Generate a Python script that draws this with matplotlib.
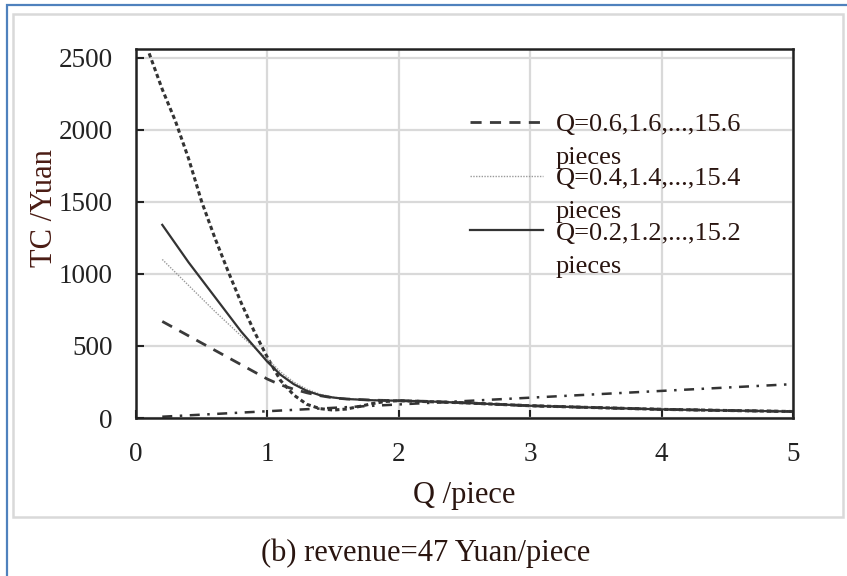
import numpy as np
import matplotlib
matplotlib.use("Agg")
import matplotlib.pyplot as plt
from matplotlib.legend_handler import HandlerLine2D
from matplotlib.patches import Rectangle

# Total cost curves, TC (Yuan) against order quantity Q (piece)
q_steep = [0.1, 0.2, 0.3, 0.4, 0.5, 0.6, 0.7, 0.8, 0.9, 1.0, 1.1, 1.2, 1.3, 1.4,
           1.5, 1.6, 1.7, 1.8, 1.9, 2.0, 2.5, 3.0, 3.5, 4.0, 4.5, 5.0]
tc_steep = [2530, 2280, 2060, 1800, 1500, 1250, 1020, 800, 600, 420, 260, 160, 95, 65,
            55, 62, 80, 100, 115, 120, 105, 85, 72, 60, 52, 45]

q_curve = [0.2, 0.4, 0.6, 0.8, 1.0, 1.1, 1.2, 1.3, 1.4, 1.5, 1.6, 1.8, 2.0, 2.2,
           2.5, 3.0, 3.5, 4.0, 4.5, 5.0]
tc_q06 = [670, 570, 470, 370, 270, 230, 200, 175, 155, 140, 132, 124, 120, 116,
          105, 85, 72, 60, 52, 45]
tc_q04 = [1100, 920, 740, 570, 410, 320, 250, 200, 165, 145, 133, 124, 120, 116,
          105, 85, 72, 60, 52, 45]
tc_q02 = [1340, 1080, 840, 600, 390, 300, 235, 188, 158, 142, 132, 123, 120, 116,
          105, 85, 72, 60, 52, 45]

q_rev = [0.2, 1.0, 2.0, 3.0, 4.0, 5.0]
tc_rev = [9, 47, 94, 141, 188, 235]

labels = ["Q=0.6,1.6,...,15.6\npieces",
          "Q=0.4,1.4,...,15.4\npieces",
          "Q=0.2,1.2,...,15.2\npieces"]

x_ticks = [0, 1, 2, 3, 4, 5]
y_ticks = [0, 500, 1000, 1500, 2000, 2500]

plt.rcParams["font.family"] = ["Liberation Serif", "DejaVu Serif"]

W, H = 847, 576
fig = plt.figure(figsize=(W / 100, H / 100), dpi=100)

# page frame: blue picture border and grey chart-area border
fig.patches.append(Rectangle((7 / W, -0.05), 1.0, 1 - 5 / H + 0.05,
                             transform=fig.transFigure, fill=False,
                             edgecolor="#4f81bd", linewidth=1.6))
fig.patches.append(Rectangle((13 / W, 1 - 517 / H), (843 - 13) / W, (517 - 14) / H,
                             transform=fig.transFigure, fill=False,
                             edgecolor="#d9d9d9", linewidth=1.8))

ax = fig.add_axes([136 / W, 1 - 418 / H, (793 - 136) / W, (418 - 49) / H])

ax.plot(q_steep, tc_steep, color="#333333", lw=2.2, linestyle=(0, (1.4, 1.0)))
l06, = ax.plot(q_curve, tc_q06, color="#3a3a3a", lw=2.0, linestyle=(0, (4, 3)))
l04, = ax.plot(q_curve, tc_q04, color="#9a9a9a", lw=1.0, linestyle=(0, (1, 1)))
l02, = ax.plot(q_curve, tc_q02, color="#333333", lw=1.6, linestyle="-")
ax.plot(q_rev, tc_rev, color="#333333", lw=1.8, linestyle=(0, (4, 3, 1, 3)))

ax.set_xlim(0, 5)
ax.set_ylim(0, 2560)
ax.set_xticks(x_ticks)
ax.set_yticks(y_ticks)
ax.grid(True, color="#d9d9d9", lw=1.6)
ax.set_axisbelow(True)
for s in ax.spines.values():
    s.set_linewidth(1.8)
    s.set_color("#222222")
ax.tick_params(direction="in", length=6, width=1.5, labelsize=19.5,
               colors="#222222")
ax.tick_params(axis="x", pad=17)
ax.tick_params(axis="y", pad=17)

ax.set_xlabel("Q /piece", fontsize=22, color="#2a1510", labelpad=10)
ax.set_ylabel("TC /Yuan", fontsize=22, color="#4a1c14")
ax.yaxis.set_label_coords(-(136 - 59) / (793 - 136), (418 - 208) / (418 - 49))


class RaisedLine(HandlerLine2D):
    """Line handle drawn level with the first line of a two-line label."""

    def create_artists(self, legend, orig_handle, xdescent, ydescent,
                       width, height, fontsize, trans):
        arts = super().create_artists(legend, orig_handle, xdescent, ydescent,
                                      width, height, fontsize, trans)
        for a in arts:
            a.set_ydata(np.asarray(a.get_ydata()) + 0.72 * fontsize)
        return arts


leg = ax.legend([l06, l04, l02], labels, loc="upper left",
                bbox_to_anchor=((470 - 136) / (793 - 136), (418 - 114) / (418 - 49)),
                frameon=False, fontsize=19, handlelength=2.75,
                handletextpad=0.5, labelspacing=-0.03, borderpad=0,
                borderaxespad=0,
                handler_map={l06: RaisedLine(), l04: RaisedLine(), l02: RaisedLine()})
for t in leg.get_texts():
    t.set_linespacing(1.65)
    t.set_color("#2a1510")

fig.text(426 / W, 1 - 553 / H, "(b) revenue=47 Yuan/piece", fontsize=22,
         ha="center", va="center", color="#2a1510")

fig.savefig("out.png", dpi=100)
